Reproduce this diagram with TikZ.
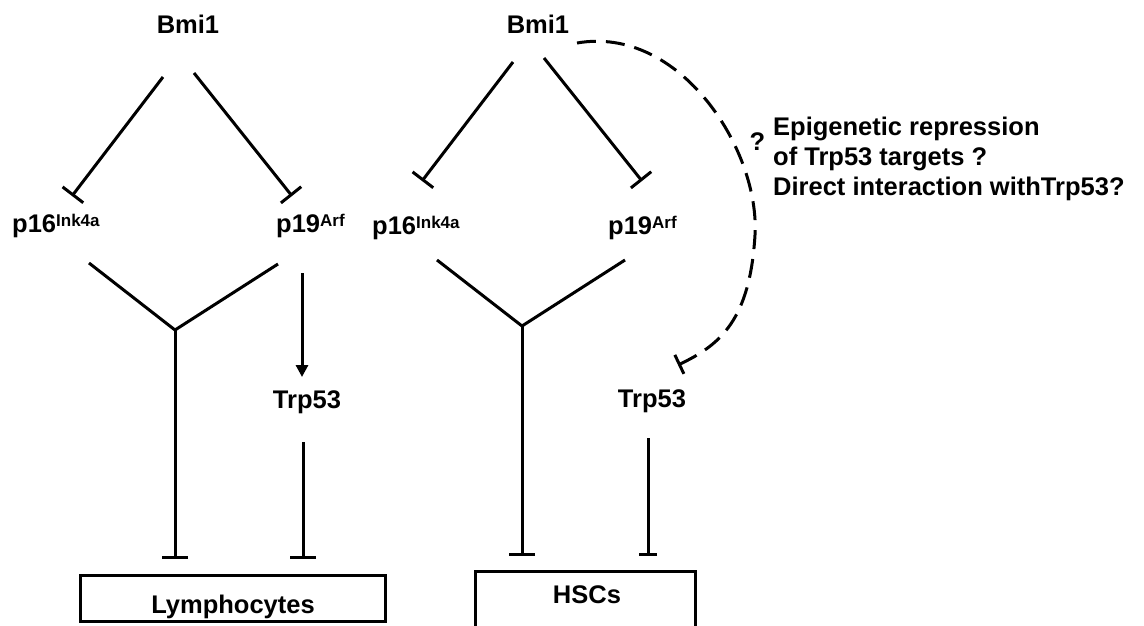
\documentclass[tikz,border=0pt]{standalone}
\usepackage{fontspec}
\setmainfont{Liberation Sans}
\usetikzlibrary{arrows.meta}
\newcommand\supx[1]{\raisebox{6pt}{\fontsize{17}{17}\selectfont #1}}
\begin{document}
\begin{tikzpicture}[x=1pt,y=-1pt,
  lbl/.style={font=\fontsize{25.5}{30}\selectfont\bfseries, inner sep=0pt},
  con/.style={line width=3pt},
  inh/.style={con, -{Bar[width=26pt]}},
  act/.style={con, -{Triangle[width=12pt,length=12pt]}},
  unk/.style={con, dash pattern=on 19pt off 10pt, -{Bar[width=21pt]}},
  cellbox/.style={draw, line width=3.2pt, inner sep=0pt}
  ]
\useasboundingbox[fill=white] (0,0) rectangle (1144,625);

% ---------- left panel ----------
\node[lbl,anchor=base] (bmiL) at (188,33) {Bmi1};
\node[lbl,anchor=base west] (p16L) at (12,232) {p16\supx{Ink4a}};
\node[lbl,anchor=base west] (p19L) at (276,232) {p19\supx{Arf}};
\node[lbl,anchor=base] (trpL) at (307,408) {Trp53};
\node[cellbox, minimum width=305pt, minimum height=46pt] (lymbox) at (233,598.5) {};
\node[lbl,anchor=base] (lym) at (233,613) {Lymphocytes};

\coordinate (bmiL-a) at (163,77);
\coordinate (p16L-in) at (72,196);
\coordinate (bmiL-b) at (194,73);
\coordinate (p19L-in) at (292,196);
\coordinate (p16L-out) at (89,263);
\coordinate (p19L-out) at (278,264);
\coordinate (jL) at (175,330);
\coordinate (lymL-in) at (175,559);
\coordinate (p19L-down) at (302,273);
\coordinate (trpL-in) at (302,377);
\coordinate (trpL-out) at (303,442);
\coordinate (lymR-in) at (303,559);

\draw[inh] (bmiL-a) -- (p16L-in);
\draw[inh] (bmiL-b) -- (p19L-in);
\draw[con] (p16L-out) -- (jL) -- (p19L-out);
\draw[inh] (jL) -- (lymL-in);
\draw[act] (p19L-down) -- (trpL-in);
\draw[inh] (trpL-out) -- (lymR-in);

% ---------- right panel ----------
\node[lbl,anchor=base] (bmiR) at (538,33) {Bmi1};
\node[lbl,anchor=base west] (p16R) at (372,234) {p16\supx{Ink4a}};
\node[lbl,anchor=base west] (p19R) at (608,234) {p19\supx{Arf}};
\node[lbl,anchor=base] (trpR) at (652,407) {Trp53};
\node[lbl,anchor=base] (hsc) at (587,603) {HSCs};
\draw[line width=3.2pt] (475.6,627) -- (475.6,571.6) -- (695.4,571.6) -- (695.4,627);

\node[lbl,anchor=base] (qm) at (757.5,150) {?};
\node[lbl,anchor=base west] (t1) at (773,135) {Epigenetic repression};
\node[lbl,anchor=base west] (t2) at (773,165) {of Trp53 targets ?};
\node[lbl,anchor=base west] (t3) at (773,195) {Direct interaction withTrp53?};

\coordinate (bmiR-a) at (513,62);
\coordinate (p16R-in) at (422,181);
\coordinate (bmiR-b) at (544,58);
\coordinate (p19R-in) at (642,181);
\coordinate (p16R-out) at (437,260);
\coordinate (p19R-out) at (625,260);
\coordinate (jR) at (522,326);
\coordinate (hscL-in) at (522,556);
\coordinate (trpR-out) at (648,438);
\coordinate (hscR-in) at (648,556);
\coordinate (bmiR-c) at (577,43);
\coordinate (arcmid) at (755,235);
\coordinate (trpR-in) at (678,365);

\draw[inh] (bmiR-a) -- (p16R-in);
\draw[inh] (bmiR-b) -- (p19R-in);
\draw[con] (p16R-out) -- (jR) -- (p19R-out);
\draw[inh] (jR) -- (hscL-in);
\draw[con, -{Bar[width=18pt]}] (trpR-out) -- (hscR-in);
\draw[unk] (bmiR-c) .. controls (680,25) and (760,150) .. (arcmid)
  .. controls (750,320) and (720,345) .. (trpR-in);
\end{tikzpicture}
\end{document}
